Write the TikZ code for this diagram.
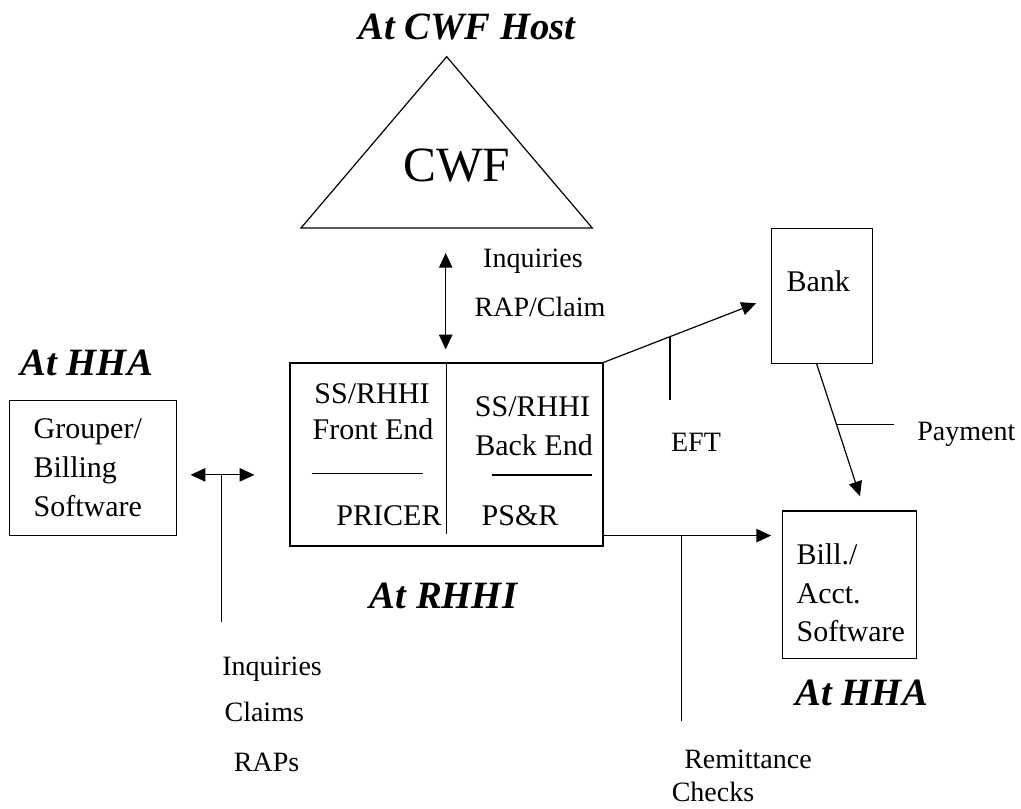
\documentclass[tikz,border=0pt]{standalone}
\usepackage{fontspec}
\setmainfont{Liberation Serif}
\usetikzlibrary{arrows.meta}
\tikzset{>={Triangle[length=11pt,width=10pt]}}
\tikzset{box/.style={draw=black, rectangle, inner sep=0pt}}
\tikzset{txt/.style={font=\fontsize{22.5}{29}\selectfont, inner sep=0pt, anchor=base}}
\tikzset{lbl/.style={font=\fontsize{21}{25}\selectfont, inner sep=0pt, anchor=base}}
\tikzset{site/.style={font=\fontsize{29}{34}\selectfont, inner sep=0pt, anchor=base}}
\def\mysite#1{\textbf{\textit{#1}}}

\begin{document}
\begin{tikzpicture}[x=0.75pt, y=-0.75pt, line width=0.9pt]
          \useasboundingbox (0,0) rectangle (1021,808);

          \coordinate (cwftop) at (446.7,56.7);
          \coordinate (cwfleft) at (301,228);
          \coordinate (cwfright) at (592.3,228);
          \coordinate (cwfbase) at (445.7,228);
          \draw (cwftop) -- (cwfleft) -- (cwfright) -- cycle;
          \node[txt, font=\fontsize{37}{40}\selectfont] (cwf) at (456.7,181.7) {CWF};
          \node[site] (cwfhost) at (467.3,39.3) {\mysite{At CWF Host}};

          \node[box, minimum width=234.75pt, minimum height=137.25pt] (rhhi) at (446.5,454.5) {};
          \node[box, minimum width=125.5pt, minimum height=101.25pt] (grouper) at (93,468.2) {};
          \node[box, minimum width=75.5pt, minimum height=101.25pt] (bank) at (822,295.8) {};
          \node[box, minimum width=100.5pt, minimum height=110.5pt] (bill) at (849.7,584.7) {};

          \node[txt] (frontss) at (372,403.3) {SS/RHHI};
          \node[txt] (frontend) at (373,439.3) {Front End};
          \node[txt] (backss) at (532.5,416.7) {SS/RHHI};
          \node[txt] (backend) at (534,455) {Back End};
          \node[txt] (pricer) at (389,525) {PRICER};
          \node[txt] (psr) at (520,525) {PS\&R};
          \draw (rhhi.north) -- ++(0,172);
          \draw (311.7,473.3) -- (423,473.3);
          \draw (491.7,475) -- (591.7,475);

          \node[txt, anchor=west, align=left] (grouptxt) at (33,467.6) {Grouper/\\Billing\\Software};
          \node[txt, anchor=west, align=left] (billtxt) at (796,593) {Bill./\\Acct.\\Software};
          \node[txt] (banktxt) at (818.3,291.7) {Bank};

          \node[site] (atrhhi) at (444,608.3) {\mysite{At RHHI}};
          \node[site] (hhaleft) at (86.7,375) {\mysite{At HHA}};
          \node[site] (hharight) at (861.7,705) {\mysite{At HHA}};

          \draw[<->, shorten <=18.75pt, shorten >=9.75pt] (cwfbase) -- (cwfbase |- rhhi.north);
          \node[lbl] (inqtop) at (533,267.3) {Inquiries};
          \node[lbl] (rapclaim) at (540,316) {RAP/Claim};

          \coordinate (hhaout) at ([yshift=-5pt]grouper.east);
          \draw[<->, shorten <=10pt, shorten >=26.25pt] (hhaout) -- coordinate[pos=0.397] (hhamid) (hhaout -| rhhi.west);
          \draw (hhamid) -- ++(0,146.7);
          \node[lbl, anchor=base west] (inqlow) at (221.7,675) {Inquiries};
          \node[lbl, anchor=base west] (claims) at (224,721.7) {Claims};
          \node[lbl, anchor=base west] (raps) at (233.3,771.7) {RAPs};

          \draw[->] (rhhi.north east) -- coordinate[pos=0.435] (eftmid) ([xshift=-11.25pt, yshift=-5.6pt]bank.west);
          \draw (eftmid) -- ++(0,63);
          \node[lbl] (eft) at (696,451.7) {EFT};

          \draw[->] ([xshift=-4pt]bank.south) -- coordinate[pos=0.457] (paymid) ([xshift=7.7pt, yshift=10.7pt]bill.north);
          \draw (paymid) -- ++(57.5,0);
          \node[lbl, anchor=base west] (payment) at (916.7,440) {Payment};

          \coordinate (remstart) at ([yshift=8.25pt]rhhi.south east);
          \draw[->, shorten >=8.25pt] (remstart) -- coordinate[pos=0.438] (remmid) (remstart -| bill.west);
          \draw (remmid) -- ++(0,185);
          \node[lbl] (remit) at (748,768) {Remittance};
          \node[lbl] (checks) at (713,801) {Checks};
\end{tikzpicture}
\end{document}
